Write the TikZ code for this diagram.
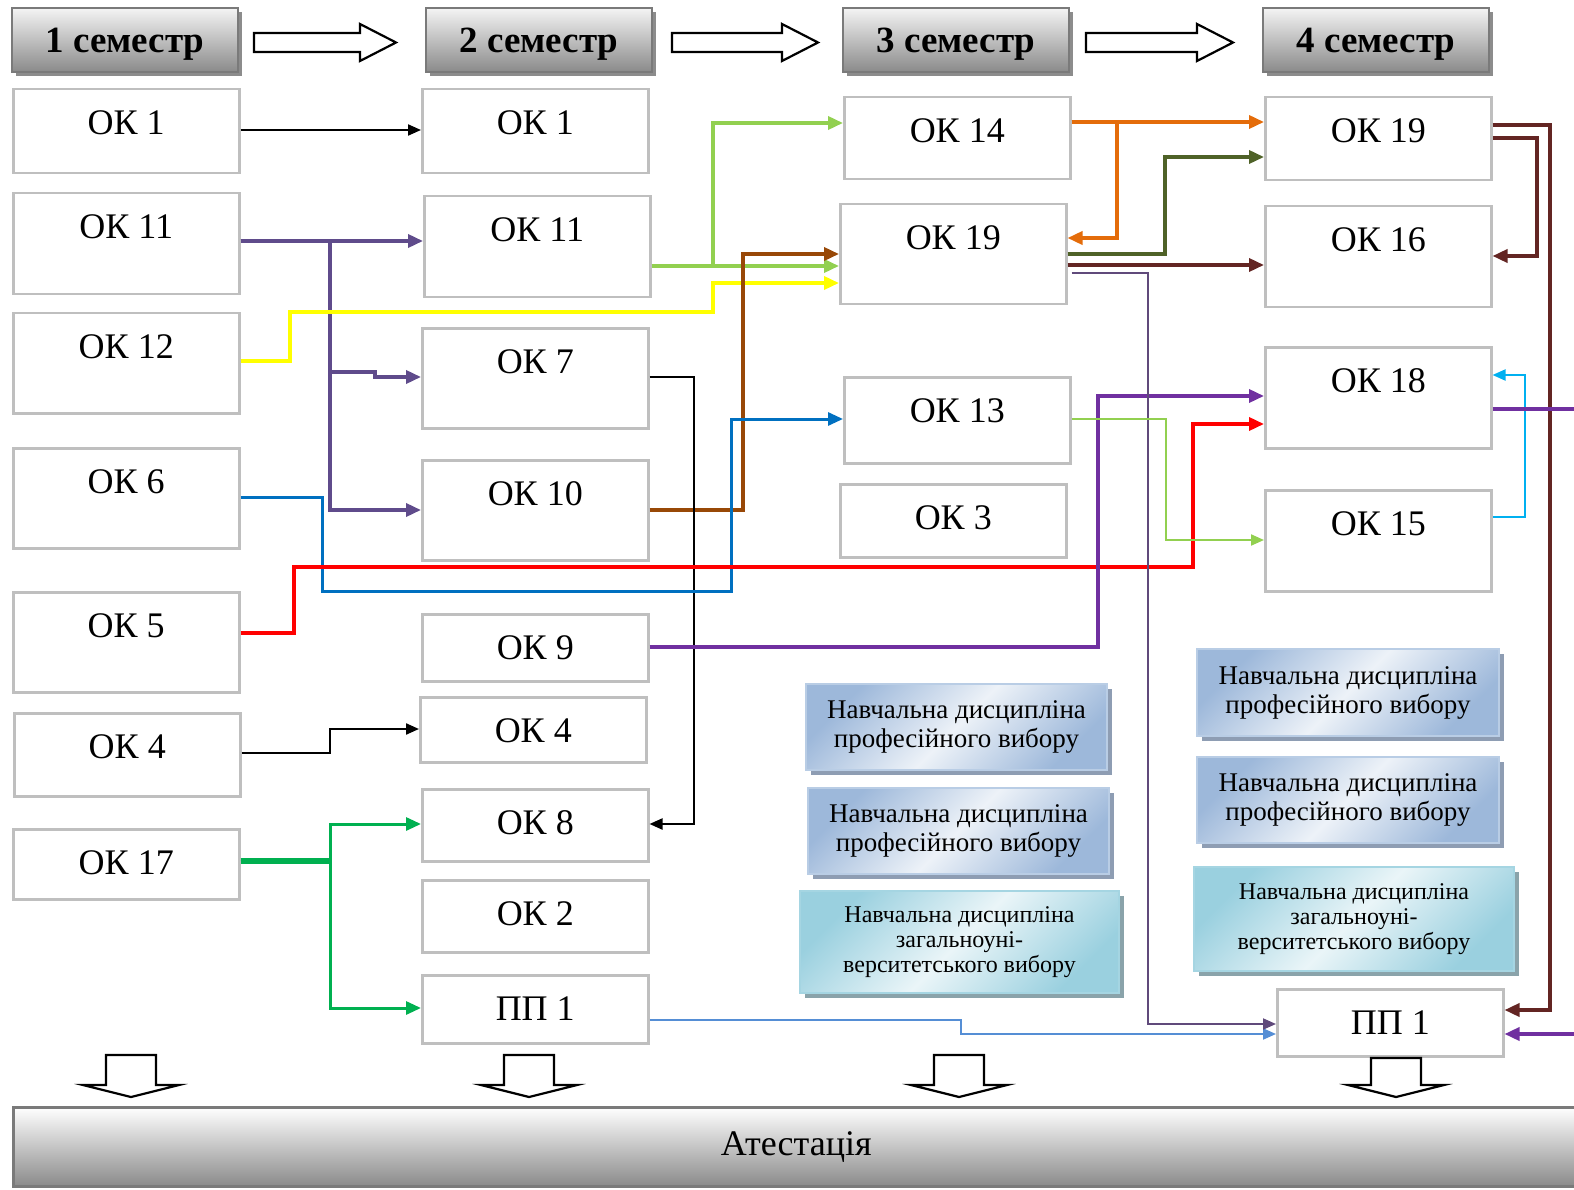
\documentclass[tikz,border=0pt]{standalone}
\usepackage{fontspec}
\setmainfont{Liberation Serif}
\usetikzlibrary{arrows.meta,shadows}
\definecolor{boxgray}{HTML}{BFBFBF}
\definecolor{hdrtop}{HTML}{F4F4F4}
\definecolor{hdrbot}{HTML}{8A8A8A}
\definecolor{hdrline}{HTML}{7A7A7A}
\definecolor{hdrshadow}{HTML}{8C8C8C}
\definecolor{bldark}{HTML}{9DB8DA}
\definecolor{bllight}{HTML}{EDF2F8}
\definecolor{blline}{HTML}{B9CDE5}
\definecolor{blshadow}{HTML}{8E9DB3}
\definecolor{cydark}{HTML}{9AD0DF}
\definecolor{cylight}{HTML}{EAF5F8}
\definecolor{cyline}{HTML}{A5D5E2}
\definecolor{cyshadow}{HTML}{8AA3AA}
\definecolor{cpurA}{HTML}{5F4B8B}
\definecolor{cyel}{HTML}{FFFF00}
\definecolor{clgreen}{HTML}{92D050}
\definecolor{cbrown}{HTML}{984807}
\definecolor{cblue}{HTML}{0070C0}
\definecolor{cred}{HTML}{FF0000}
\definecolor{cpurB}{HTML}{7030A0}
\definecolor{cgreen}{HTML}{00B050}
\definecolor{cltblue}{HTML}{558ED5}
\definecolor{corange}{HTML}{E46C0A}
\definecolor{colive}{HTML}{4F6228}
\definecolor{cdred}{HTML}{632523}
\definecolor{cpurC}{HTML}{604A7B}
\definecolor{ccyan}{HTML}{00B0F0}
\newcommand\OKbox[6]{%
  \pgfmathsetmacro\okw{#4-#2}\pgfmathsetmacro\okh{#5-#3}\pgfmathsetmacro\okd{#5-#3-45}%
  \node[okbox, minimum width=\okw pt, minimum height=\okh pt, text height=45pt, text depth=\okd pt] (#1) at (#2,#3) {#6};}
\newcommand\RArrow[2]{%
  \draw[blockarrow] (#1,33) -- ({#2-36},33) -- ({#2-36},24) -- (#2,42.5) -- ({#2-36},61) -- ({#2-36},52) -- (#1,52) -- cycle;}
\newcommand\DArrow[2]{%
  \draw[blockarrow] ({#1-25},#2) -- ({#1+25},#2) -- ({#1+25},1085) -- ({#1+48},1085) -- (#1,1097) -- ({#1-48},1085) -- ({#1-25},1085) -- cycle;}
\begin{document}
\begin{tikzpicture}[x=1pt,y=-1pt,
  okbox/.style={draw=boxgray, line width=2.5pt, fill=white, inner sep=0pt, anchor=north west, font=\fontsize{36}{40}\selectfont},
  hdr/.style={draw=hdrline, line width=2pt, top color=hdrtop, bottom color=hdrbot, minimum width=226pt, minimum height=64pt, inner sep=0pt,
    text height=25pt, text depth=0pt,
    font=\bfseries\fontsize{37}{40}\selectfont, drop shadow={shadow xshift=4pt, shadow yshift=-4pt, fill=hdrshadow, opacity=1}},
  vbox/.style={draw=blline, line width=2pt, shading=axis, top color=bldark, bottom color=bldark, middle color=bllight, shading angle=45,
    align=center, inner sep=0pt, font=\fontsize{27}{29}\selectfont,
    drop shadow={shadow xshift=5pt, shadow yshift=-5pt, fill=blshadow, opacity=1}},
  cbox/.style={draw=cyline, line width=2pt, shading=axis, top color=cydark, bottom color=cydark, middle color=cylight, shading angle=45,
    align=center, inner sep=0pt, font=\fontsize{24}{25}\selectfont,
    drop shadow={shadow xshift=5pt, shadow yshift=-5pt, fill=cyshadow, opacity=1}},
  blockarrow/.style={draw=black, line width=2.2pt, fill=white, line join=miter},
  arr/.style={-{Triangle[length=15pt,width=13pt]}},
  sarr/.style={-{Triangle[length=13pt,width=11pt]}},
  conn/.style={line join=miter}
]
\useasboundingbox (0,0) rectangle (1574,1190);
% headers
\node[hdr] (h1) at (125,40) {1 семестр};
\node[hdr] (h2) at (539,40) {2 семестр};
\node[hdr] (h3) at (956,40) {3 семестр};
\node[hdr] (h4) at (1376,40) {4 семестр};
\RArrow{254}{396}
\RArrow{672}{818}
\RArrow{1086}{1233}
% column 1
\OKbox{a1}{12}{88}{238}{172}{ОК 1}
\OKbox{a11}{12}{192}{238}{293}{ОК 11}
\OKbox{a12}{12}{312}{238}{412}{ОК 12}
\OKbox{a6}{12}{447}{238}{547}{ОК 6}
\OKbox{a5}{12}{591}{238}{691}{ОК 5}
\OKbox{a4}{13}{712}{239}{795}{ОК 4}
\OKbox{a17}{12}{828}{238}{898}{ОК 17}
% column 2
\OKbox{b1}{421}{88}{647}{172}{ОК 1}
\OKbox{b11}{423}{195}{649}{296}{ОК 11}
\OKbox{b7}{421}{327}{647}{427}{ОК 7}
\OKbox{b10}{421}{459}{647}{559}{ОК 10}
\OKbox{b9}{421}{613}{647}{680}{ОК 9}
\OKbox{b4}{419}{696}{645}{761}{ОК 4}
\OKbox{b8}{421}{788}{647}{860}{ОК 8}
\OKbox{b2}{421}{879}{647}{951}{ОК 2}
\OKbox{bpp}{421}{974}{647}{1042}{ПП 1}
% column 3
\OKbox{c14}{843}{96}{1069}{178}{ОК 14}
\OKbox{c19}{839}{203}{1065}{303}{ОК 19}
\OKbox{c13}{843}{376}{1069}{462}{ОК 13}
\OKbox{c3}{839}{483}{1065}{556}{ОК 3}
\node[vbox, minimum width=301pt, minimum height=86pt] (v1) at (956.5,727) {Навчальна дисципліна\\професійного вибору};
\node[vbox, minimum width=301pt, minimum height=86pt] (v2) at (958.5,831) {Навчальна дисципліна\\професійного вибору};
\node[cbox, minimum width=319pt, minimum height=102pt] (v3) at (959.5,942) {Навчальна дисципліна\\загальноуні-\\верситетського вибору};
% column 4
\OKbox{d19}{1264}{96}{1490}{179}{ОК 19}
\OKbox{d16}{1264}{205}{1490}{306}{ОК 16}
\OKbox{d18}{1264}{346}{1490}{447}{ОК 18}
\OKbox{d15}{1264}{489}{1490}{590}{ОК 15}
\node[vbox, minimum width=302pt, minimum height=87pt] (v4) at (1348,692.5) {Навчальна дисципліна\\професійного вибору};
\node[vbox, minimum width=302pt, minimum height=86pt] (v5) at (1348,800) {Навчальна дисципліна\\професійного вибору};
\node[cbox, minimum width=320pt, minimum height=104pt] (v6) at (1354,919) {Навчальна дисципліна\\загальноуні-\\верситетського вибору};
\OKbox{dpp}{1276}{988}{1502}{1055}{ПП 1}
% attestation
\node[draw=hdrline, line width=2.5pt, top color=white, bottom color=hdrbot, minimum width=1566pt, minimum height=79pt, inner sep=0pt,
  anchor=north west, font=\fontsize{36}{40}\selectfont] (att) at (12,1106) {Атестація};
\DArrow{131}{1055}
\DArrow{529}{1055}
\DArrow{959}{1055}
\DArrow{1396}{1058}
% free ends at the right edge
\coordinate (edgeA) at (1580,409);
\coordinate (edgeB) at (1580,1034);
% connectors
\draw[conn, sarr, black, line width=2pt] (a1.east |- 0,130) -- (b1.west |- 0,130);
\draw[conn, arr, cpurA, line width=3.5pt] (a11.east |- 0,241) -- (b11.west |- 0,241);
\draw[conn, arr, cpurA, line width=3.5pt] (a11.east |- 0,241) -- (330,241) -- (330,510) -- (b10.west |- 0,510);
\draw[conn, arr, cpurA, line width=3.5pt] (a11.east |- 0,241) -- (330,241) -- (330,372) -- (375,372) -- (375,377) -- (b7.west |- 0,377);
\draw[conn, arr, cyel, line width=3.5pt] (a12.east |- 0,361) -- (290,361) -- (290,312) -- (713,312) -- (713,283) -- (c19.west |- 0,283);
\draw[conn, arr, clgreen, line width=3.5pt] (b11.east |- 0,266) -- (c19.west |- 0,266);
\draw[conn, arr, clgreen, line width=3.5pt] (b11.east |- 0,266) -- (713,266) -- (713,123) -- (c14.west |- 0,123);
\draw[conn, arr, cbrown, line width=3.5pt] (b10.east |- 0,510) -- (743,510) -- (743,254) -- (c19.west |- 0,254);
\draw[conn, sarr, black, line width=2.2pt] (b7.east |- 0,377) -- (694,377) -- (694,824) -- (b8.east |- 0,824);
\draw[conn, arr, cblue, line width=3pt] (a6.east |- 0,497) -- (322,497) -- (322,591) -- (731,591) -- (731,419) -- (c13.west |- 0,419);
\draw[conn, arr, cred, line width=3.5pt] (a5.east |- 0,633) -- (294,633) -- (294,567) -- (1193,567) -- (1193,424) -- (d18.west |- 0,424);
\draw[conn, arr, cpurB, line width=3.5pt] (b9.east |- 0,647) -- (1098,647) -- (1098,396) -- (d18.west |- 0,396);
\draw[conn, sarr, black, line width=2.2pt] (a4.east |- 0,753) -- (330,753) -- (330,729) -- (b4.west |- 0,729);
\draw[conn, arr, cgreen, line width=3pt] (a17.east |- 0,861) -- (330,861) -- (330,824) -- (b8.west |- 0,824);
\draw[conn, arr, cgreen, line width=3pt] (a17.east |- 0,861) -- (330,861) -- (330,1008) -- (bpp.west |- 0,1008);
\draw[cgreen, line width=5.5pt] (a17.east |- 0,861) -- (331,861);
\draw[conn, sarr, cltblue, line width=2pt] (bpp.east |- 0,1020) -- (961,1020) -- (961,1034) -- (dpp.west |- 0,1034);
\draw[conn, arr, corange, line width=3.5pt] (c14.east |- 0,122) -- (d19.west |- 0,122);
\draw[conn, arr, corange, line width=3.5pt] (c14.east |- 0,122) -- (1117,122) -- (1117,238) -- (c19.east |- 0,238);
\draw[conn, arr, colive, line width=3.5pt] (c19.east |- 0,254) -- (1165,254) -- (1165,157) -- (d19.west |- 0,157);
\draw[conn, arr, cdred, line width=3.5pt] (c19.east |- 0,265) -- (d16.west |- 0,265);
\draw[conn, sarr, cpurC, line width=2pt] ([xshift=4pt]c19.east |- 0,273) -- (1148,273) -- (1148,1024) -- (dpp.west |- 0,1024);
\draw[conn, sarr, clgreen, line width=2pt] (c13.east |- 0,419) -- (1166,419) -- (1166,540) -- (d15.west |- 0,540);
\draw[conn, arr, cdred, line width=3.5pt] (d19.east |- 0,125) -- (1550,125) -- (1550,1010) -- (dpp.east |- 0,1010);
\draw[conn, arr, cdred, line width=3.5pt] (d19.east |- 0,138) -- (1537,138) -- (1537,256) -- (d16.east |- 0,256);
\draw[conn, sarr, ccyan, line width=2pt] (d15.east |- 0,517) -- (1525,517) -- (1525,375) -- (d18.east |- 0,375);
\draw[conn, cpurB, line width=3.5pt] (d18.east |- 0,409) -- (edgeA);
\draw[conn, arr, cpurB, line width=3.5pt] (edgeB) -- (dpp.east |- 0,1034);
\end{tikzpicture}
\end{document}
